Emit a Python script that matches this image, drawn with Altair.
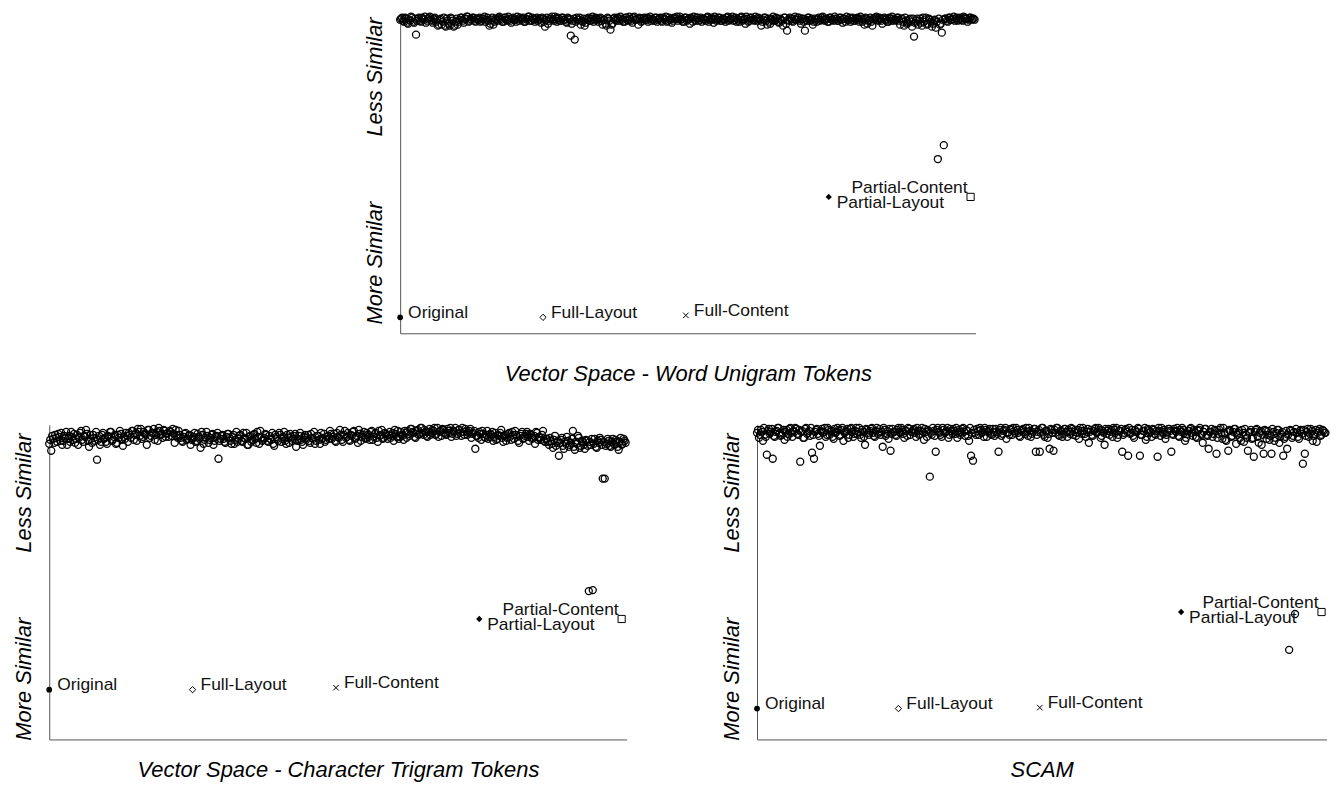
import altair as alt
import pandas as pd

# ---------------- data ----------------
# dissimilarity of each document to the original, in plot units.
# "_a" documents sit on whole index positions, "_b" documents between them.
top_cloud_a = [
    315, 317, 313, 316, 311, 314, 317, 312, 300, 316,
    314, 317, 315, 312, 316, 318, 314, 316, 313, 309,
    315, 310, 317, 308, 314, 309, 316, 308, 313, 310,
    315, 317, 312, 316, 318, 314, 315, 317, 313, 316,
    317, 314, 316, 313, 317, 309, 315, 310, 316, 314,
    318, 315, 313, 317, 314, 316, 312, 317, 315, 318,
    314, 316, 317, 313, 315, 318, 314, 316, 313, 317,
    315, 312, 316, 308, 317, 314, 316, 315, 318, 313,
    316, 314, 317, 315, 312, 316, 299, 314, 295, 317,
    315, 310, 313, 309, 316, 317, 314, 318, 315, 316,
    313, 317, 310, 315, 309, 316, 305, 311, 317, 314,
    316, 318, 315, 313, 317, 314, 316, 312, 318, 315,
    310, 316, 314, 317, 315, 313, 318, 316, 314, 317,
    315, 317, 313, 316, 318, 314, 315, 312, 317, 316,
    314, 318, 316, 313, 317, 315, 311, 316, 318, 314,
    317, 315, 313, 316, 314, 318, 315, 317, 312, 316,
    315, 317, 314, 316, 313, 318, 315, 316, 314, 317,
    316, 313, 318, 315, 311, 316, 314, 317, 315, 318,
    314, 316, 309, 315, 317, 310, 313, 316, 318, 314,
    316, 312, 315, 309, 317, 304, 314, 316, 313, 318,
    315, 317, 311, 316, 304, 314, 317, 315, 310, 316,
    313, 317, 315, 318, 314, 316, 313, 317, 315, 318,
    316, 314, 317, 312, 316, 318, 315, 313, 317, 314,
    316, 315, 318, 313, 310, 316, 314, 317, 309, 315,
    318, 314, 316, 311, 317, 315, 313, 316, 318, 314,
    315, 317, 310, 316, 309, 314, 312, 316, 308, 298,
    314, 310, 316, 309, 313, 317, 311, 315, 308, 314,
    307, 175, 310, 302, 189, 316, 313, 317, 315, 318,
    316, 314, 317, 315, 318, 316, 313, 317, 315, 316,
]
top_cloud_b = [
    316, 314, 317, 312, 315, 318, 313, 316, 314, 317,
    313, 316, 318, 314, 317, 315, 312, 317, 315, 310,
    316, 313, 309, 316, 311, 317, 314, 309, 316, 313,
    317, 314, 316, 318, 313, 316, 317, 314, 316, 315,
    313, 316, 318, 315, 314, 311, 317, 313, 315, 317,
    316, 313, 317, 315, 318, 314, 316, 315, 313, 316,
    317, 315, 313, 316, 318, 314, 317, 315, 316, 314,
    316, 317, 313, 315, 311, 316, 318, 314, 316, 317,
    314, 317, 315, 313, 317, 315, 311, 316, 313, 315,
    317, 314, 316, 312, 315, 314, 316, 313, 317, 315,
    316, 314, 315, 311, 317, 314, 310, 316, 315, 317,
    314, 316, 313, 317, 315, 318, 314, 317, 315, 316,
    317, 313, 316, 315, 317, 316, 314, 315, 317, 313,
    316, 314, 317, 315, 313, 317, 316, 314, 316, 318,
    316, 315, 313, 317, 314, 316, 317, 313, 315, 317,
    314, 317, 316, 315, 317, 313, 316, 315, 318, 314,
    317, 314, 316, 315, 317, 314, 316, 318, 315, 313,
    315, 317, 314, 316, 318, 313, 317, 315, 314, 316,
    317, 315, 313, 317, 314, 316, 311, 315, 314, 317,
    313, 316, 314, 317, 311, 315, 317, 314, 316, 315,
    317, 314, 316, 313, 315, 317, 314, 316, 313, 315,
    316, 314, 317, 315, 316, 313, 317, 315, 314, 316,
    314, 317, 315, 316, 313, 315, 317, 316, 314, 316,
    317, 313, 316, 315, 317, 311, 315, 313, 316, 317,
    315, 317, 314, 316, 315, 313, 317, 314, 316, 315,
    317, 314, 316, 313, 317, 311, 315, 313, 316, 312,
    316, 314, 312, 317, 315, 310, 316, 313, 311, 315,
    313, 316, 311, 315, 316, 314, 317, 315, 316, 314,
    317, 315, 316, 314, 317, 316, 315, 317, 316, 315,
]

left_cloud_a = [
    297, 290, 302, 306, 299, 304, 308, 300, 303, 296,
    305, 309, 301, 298, 306, 303, 310, 299, 304, 307,
    294, 302, 306, 300, 281, 305, 299, 308, 303, 297,
    304, 309, 301, 306, 298, 303, 307, 295, 302, 305,
    308, 303, 310, 306, 300, 309, 312, 304, 307, 296,
    311, 305, 308, 301, 309, 313, 306, 303, 310, 307,
    304, 309, 312, 298, 306, 310, 303, 299, 307, 301,
    305, 296, 302, 308, 300, 304, 293, 306, 301, 309,
    298, 303, 307, 300, 305, 282, 302, 306, 299, 304,
    307, 300, 304, 297, 309, 302, 306, 299, 303, 308,
    296, 305, 301, 307, 298, 304, 310, 300, 303, 306,
    299, 302, 308, 295, 304, 300, 306, 302, 309, 297,
    303, 307, 300, 305, 294, 302, 308, 299, 304, 301,
    306, 298, 303, 309, 300, 305, 297, 302, 307, 301,
    305, 310, 302, 307, 299, 304, 311, 301, 306, 303,
    308, 300, 305, 310, 303, 298, 307, 304, 309, 302,
    306, 301, 310, 304, 308, 299, 305, 311, 303, 307,
    302, 309, 305, 300, 307, 310, 304, 306, 301, 308,
    310, 305, 312, 308, 303, 311, 307, 313, 306, 309,
    304, 312, 308, 310, 306, 313, 309, 305, 311, 307,
    312, 308, 304, 310, 313, 307, 311, 305, 309, 312,
    306, 310, 303, 308, 292, 305, 309, 301, 307, 303,
    310, 304, 306, 300, 308, 302, 305, 311, 299, 306,
    303, 308, 301, 306, 310, 304, 298, 307, 302, 305,
    309, 300, 306, 303, 297, 308, 304, 301, 310, 299,
    302, 296, 300, 293, 305, 298, 285, 301, 295, 299,
    304, 294, 298, 310, 291, 297, 303, 295, 299, 292,
    300, 149, 296, 150, 302, 293, 298, 301, 262, 262,
    297, 300, 294, 302, 296, 299, 291, 303, 297, 300,
]
left_cloud_b = [
    301, 305, 298, 303, 307, 300, 296, 305, 309, 302,
    299, 304, 307, 302, 296, 308, 301, 305, 311, 300,
    306, 298, 303, 309, 301, 296, 306, 302, 299, 305,
    309, 300, 304, 297, 306, 310, 301, 304, 308, 299,
    306, 310, 301, 308, 312, 305, 302, 309, 306, 311,
    303, 308, 312, 306, 300, 310, 307, 311, 304, 308,
    310, 305, 307, 311, 303, 306, 300, 304, 308, 302,
    306, 301, 304, 299, 307, 302, 309, 297, 303, 305,
    301, 306, 296, 304, 308, 300, 305, 302, 298, 307,
    303, 297, 306, 301, 299, 305, 300, 308, 302, 296,
    304, 299, 306, 302, 309, 297, 303, 301, 307, 300,
    305, 301, 297, 306, 302, 308, 299, 304, 300, 306,
    298, 304, 302, 307, 300, 305, 301, 296, 306, 303,
    300, 307, 302, 297, 305, 301, 308, 303, 299, 304,
    302, 307, 304, 300, 308, 303, 306, 299, 310, 304,
    301, 306, 309, 302, 305, 311, 300, 306, 303, 308,
    304, 309, 301, 307, 303, 310, 306, 302, 308, 305,
    306, 303, 308, 311, 304, 302, 309, 305, 310, 303,
    307, 312, 309, 304, 310, 306, 313, 308, 311, 305,
    309, 306, 311, 313, 307, 304, 310, 312, 308, 306,
    310, 313, 307, 309, 305, 311, 308, 313, 306, 310,
    308, 312, 307, 310, 305, 303, 307, 310, 304, 306,
    302, 307, 309, 304, 301, 306, 308, 303, 305, 300,
    307, 304, 309, 302, 306, 300, 305, 309, 303, 307,
    304, 307, 302, 305, 309, 301, 303, 306, 300, 302,
    299, 303, 297, 301, 295, 300, 298, 303, 292, 297,
    300, 296, 302, 294, 299, 305, 293, 300, 296, 301,
    295, 299, 302, 297, 294, 300, 303, 296, 299, 295,
    302, 295, 299, 297, 301, 294, 299, 296, 302, 298,
]

right_cloud_a = [
    308, 303, 311, 300, 306, 286, 312, 309, 282, 304,
    310, 313, 305, 308, 301, 311, 307, 313, 304, 309,
    312, 306, 279, 310, 303, 313, 308, 305, 288, 282,
    311, 307, 295, 312, 309, 304, 313, 306, 310, 302,
    308, 313, 305, 311, 300, 309, 312, 306, 313, 304,
    310, 307, 313, 303, 309, 296, 311, 306, 312, 308,
    304, 313, 309, 306, 294, 311, 307, 302, 290, 312,
    309, 305, 313, 308, 311, 303, 310, 313, 306, 309,
    312, 304, 310, 307, 313, 301, 309, 311, 264, 306,
    310, 289, 313, 308, 304, 311, 309, 313, 306, 310,
    312, 307, 303, 311, 309, 313, 305, 310, 300, 285,
    280, 308, 312, 306, 311, 309, 313, 304, 310, 307,
    312, 305, 309, 289, 313, 307, 311, 302, 308, 312,
    306, 310, 313, 308, 304, 311, 309, 313, 305, 310,
    307, 312, 289, 309, 289, 313, 306, 310, 303, 292,
    311, 290, 308, 313, 305, 310, 307, 312, 304, 309,
    313, 306, 311, 308, 302, 310, 313, 307, 309, 298,
    311, 305, 312, 308, 313, 303, 310, 296, 307, 312,
    309, 304, 311, 313, 306, 310, 289, 308, 312, 285,
    307, 311, 303, 309, 313, 285, 306, 310, 301, 312,
    308, 304, 311, 306, 284, 310, 313, 307, 302, 309,
    312, 289, 306, 310, 313, 304, 309, 311, 300, 307,
    310, 313, 305, 309, 303, 311, 307, 298, 312, 306,
    292, 309, 304, 311, 287, 307, 313, 302, 308, 300,
    290, 310, 305, 312, 297, 308, 303, 311, 299, 306,
    290, 309, 302, 284, 311, 304, 308, 296, 287, 310,
    306, 301, 287, 309, 303, 311, 298, 307, 285, 304,
    292, 90, 310, 305, 126, 308, 302, 311, 277, 287,
    309, 304, 312, 300, 307, 299, 310, 305, 311, 308,
]
right_cloud_b = [
    311, 306, 309, 313, 304, 310, 307, 312, 305, 309,
    313, 308, 306, 311, 309, 304, 312, 308, 310, 313,
    307, 311, 309, 303, 312, 307, 310, 313, 306, 309,
    312, 305, 310, 308, 313, 306, 311, 309, 304, 312,
    309, 311, 306, 313, 308, 310, 303, 312, 309, 307,
    313, 309, 306, 311, 304, 312, 308, 310, 313, 305,
    310, 307, 312, 309, 313, 305, 310, 312, 307, 309,
    306, 311, 309, 313, 307, 310, 305, 312, 309, 311,
    308, 313, 306, 310, 309, 312, 304, 310, 308, 313,
    305, 311, 309, 306, 313, 308, 310, 303, 312, 307,
    310, 313, 308, 306, 312, 309, 311, 305, 313, 308,
    311, 306, 310, 313, 308, 304, 311, 309, 312, 306,
    309, 312, 307, 311, 305, 310, 313, 308, 306, 311,
    313, 308, 311, 305, 310, 312, 307, 309, 313, 304,
    309, 312, 306, 311, 308, 313, 304, 310, 307, 312,
    308, 311, 313, 306, 310, 304, 312, 309, 311, 307,
    312, 309, 305, 311, 313, 307, 310, 304, 312, 309,
    306, 310, 313, 309, 311, 305, 308, 312, 310, 306,
    311, 313, 308, 303, 310, 312, 306, 311, 309, 313,
    308, 305, 311, 309, 312, 306, 310, 313, 304, 311,
    309, 312, 307, 310, 313, 305, 309, 311, 306, 312,
    310, 307, 312, 309, 305, 311, 313, 308, 303, 310,
    312, 308, 311, 304, 310, 313, 306, 309, 312, 305,
    309, 312, 307, 310, 303, 311, 308, 313, 301, 309,
    311, 304, 309, 312, 306, 310, 300, 308, 312, 303,
    308, 311, 303, 309, 312, 298, 310, 306, 311, 302,
    310, 305, 312, 300, 308, 311, 304, 309, 302, 310,
    306, 311, 303, 309, 312, 304, 310, 307, 311, 305,
    312, 307, 310, 305, 311, 308, 312, 306, 310, 308,
]

special_kinds = ["Original", "Full-Layout", "Full-Content", "Partial-Layout", "Partial-Content"]
special_index = [0, 72, 144, 216, 287.5]
top_special = [16, 16, 18, 137, 137]
left_special = [50, 50, 52, 121, 121]
right_special = [31, 31, 32, 128, 128]

panel_titles = [
    "Vector Space - Word Unigram Tokens",
    "Vector Space - Character Trigram Tokens",
    "SCAM",
]
y_tick_labels = ["More Similar", "Less Similar"]

# ---------------- chart ----------------
FONT = "Liberation Sans"
X_PATH = "M-1,-1L1,1M-1,1L1,-1"
marker_style = {
    "Original": dict(shape="circle", size=34, filled=True),
    "Full-Layout": dict(shape="diamond", size=40, filled=False),
    "Full-Content": dict(shape=X_PATH, size=30, filled=False),
    "Partial-Layout": dict(shape="diamond", size=40, filled=True),
    "Partial-Content": dict(shape="square", size=52, filled=False),
}


def panel(cloud_a, cloud_b, sp_vals, title, width, height, label_pos, title_pad):
    cloud_df = pd.concat([
        pd.DataFrame({"doc": [i for i in range(len(cloud_a))], "dist": cloud_a}),
        pd.DataFrame({"doc": [i + 0.5 for i in range(len(cloud_b))], "dist": cloud_b}),
    ], ignore_index=True)
    sp_df = pd.DataFrame({"doc": special_index, "dist": sp_vals, "kind": special_kinds})

    xenc = alt.X(
        "doc:Q",
        scale=alt.Scale(domain=[0, 290], nice=False, zero=False),
        axis=alt.Axis(
            title=title, labels=False, ticks=False, grid=False,
            domainColor="#555555", domainWidth=1,
            titleFont=FONT, titleFontSize=22, titleFontStyle="italic",
            titleFontWeight="normal", titleColor="black", titlePadding=title_pad,
        ),
    )
    yenc = alt.Y(
        "dist:Q",
        scale=alt.Scale(domain=[0, height], nice=False, zero=False),
        axis=alt.Axis(
            title=None, values=label_pos,
            labelExpr=f"datum.value > {height / 2} ? '{y_tick_labels[1]}' : '{y_tick_labels[0]}'",
            labelAngle=270, labelAlign="center", labelBaseline="bottom",
            labelFont=FONT, labelFontSize=22, labelFontStyle="italic",
            labelColor="black", ticks=False, tickSize=0, grid=False,
            labelPadding=14, labelOverlap=False, labelFlush=False,
            domainColor="#555555", domainWidth=1,
        ),
    )

    layers = [
        alt.Chart(cloud_df)
        .mark_point(shape="circle", size=50, filled=False, color="black",
                    strokeWidth=1.3, opacity=1)
        .encode(x=xenc, y=yenc)
    ]
    for kind in special_kinds:
        st = marker_style[kind]
        layers.append(
            alt.Chart(sp_df)
            .transform_filter(alt.datum.kind == kind)
            .mark_point(shape=st["shape"], size=st["size"], filled=st["filled"],
                        color="black", strokeWidth=1, opacity=1)
            .encode(x=xenc, y=yenc)
        )

    def labels(kinds, align, dx, dy):
        return (
            alt.Chart(sp_df)
            .transform_filter(alt.FieldOneOfPredicate(field="kind", oneOf=kinds))
            .mark_text(align=align, baseline="middle", dx=dx, dy=dy, font=FONT,
                       fontSize=17.5, color="#111111")
            .encode(x=xenc, y=yenc, text="kind:N")
        )

    layers.append(labels(["Original", "Full-Layout", "Full-Content"], "left", 8, -4.5))
    layers.append(labels(["Partial-Layout"], "left", 8, 6))
    layers.append(labels(["Partial-Content"], "right", -3, -9))

    return alt.layer(*layers).properties(width=width, height=height)


top = panel(top_cloud_a, top_cloud_b, top_special, panel_titles[0], 578, 318, [71, 258], 30)
bl = panel(left_cloud_a, left_cloud_b, left_special, panel_titles[1], 580, 316, [61, 248], 20)
br = panel(right_cloud_a, right_cloud_b, right_special, panel_titles[2], 572, 316, [61, 248], 20)

bottom = alt.hconcat(bl, br, spacing=87).resolve_scale(x="independent", y="independent")
chart = (
    alt.vconcat(top, bottom, spacing=37, center=True)
    .resolve_scale(x="independent", y="independent")
    .properties(padding={"left": 4, "top": 0, "right": 0, "bottom": 0})
    .configure_view(stroke=None)
)

chart.save("out.html", embed_options={"renderer": "svg", "actions": False})
